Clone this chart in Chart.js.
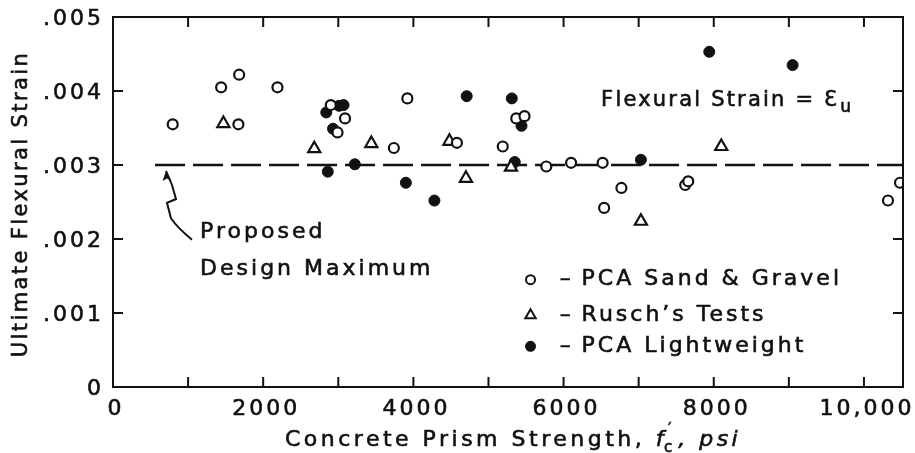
<!DOCTYPE html>
<html lang="en">
<head>
<meta charset="UTF-8">
<title>Ultimate Flexural Strain</title>
<script src="https://cdn.jsdelivr.net/npm/chart.js@4.4.1/dist/chart.umd.min.js"></script>
<style>
  html, body { margin: 0; padding: 0; background: #fff; }
</style>
</head>
<body>
<canvas id="strain" width="915" height="453"></canvas>
<script>
// PCA Sand & Gravel (open circles)
const sandX = [795, 1440, 1680, 2190, 1670, 2900, 3090, 2990, 3740, 3920, 4580, 5190, 5370, 5480, 5770, 6100, 6520, 6770, 6540, 7620, 7660, 10320, 10480];
const sandY = [.00355, .00405, .00422, .00405, .00355, .00381, .00363, .00344, .00323, .00390, .00330, .00325, .00363, .00366, .00298, .00303, .00303, .00269, .00242, .00273, .00278, .00252, .00276];

// Rusch's tests (open triangles)
const ruschX = [1470, 2680, 3440, 4480, 4700, 5300, 7030, 8100];
const ruschY = [.00356, .00322, .00329, .00332, .00282, .00297, .00224, .00325];

// PCA Lightweight (filled circles)
const lightX = [2840, 3010, 3070, 2930, 2860, 3220, 3900, 4280, 4710, 5310, 5440, 5350, 7030, 7940, 9050];
const lightY = [.00371, .00380, .00381, .00349, .00291, .00301, .00276, .00252, .00393, .00390, .00353, .00304, .00307, .00453, .00435];

// proposed design maximum
const designX = [560, 10520];
const designY = [.003, .003];

const xTickValues = [0, 2000, 4000, 6000, 8000, 10000];
const xTickLabels = ['0', '2000', '4000', '6000', '8000', '10,000'];
const yTickValues = [0, .001, .002, .003, .004, .005];
const yTickLabels = ['0', '.001', '.002', '.003', '.004', '.005'];

const INK = '#111';
const FONT = '"DejaVu Sans", sans-serif';

function pts(xs, ys) {
    return xs.map((x, i) => ({ x: x, y: ys[i] }));
}

// fill + thin stroke so the lettering is as heavy as the drawn original
function ink(ctx, text, x, y) {
    ctx.fillText(text, x, y);
    ctx.strokeText(text, x, y);
}

// ticks pointing inwards on all four sides, top/right frame, tick labels, notes, legend, titles
const paperPlugin = {
    id: 'paper',
    afterDraw(chart) {
        const ctx = chart.ctx;
        const a = chart.chartArea;
        const xs = chart.scales.x, ys = chart.scales.y;
        const px = v => xs.getPixelForValue(v);
        const py = v => ys.getPixelForValue(v);
        ctx.save();
        ctx.strokeStyle = INK;
        ctx.fillStyle = INK;
        ctx.lineWidth = 2;

        // top & right frame
        ctx.beginPath();
        ctx.moveTo(a.left, a.top);
        ctx.lineTo(a.right, a.top);
        ctx.lineTo(a.right, a.bottom);
        ctx.stroke();

        // inward tick marks
        ctx.beginPath();
        for (let v = 1000; v <= 10000; v += 1000) {
            ctx.moveTo(px(v), a.bottom); ctx.lineTo(px(v), a.bottom - 10);
            ctx.moveTo(px(v), a.top); ctx.lineTo(px(v), a.top + 10);
        }
        for (let k = 1; k <= 4; k++) {
            const y = py(k / 1000);
            ctx.moveTo(a.left, y); ctx.lineTo(a.left + 10, y);
            ctx.moveTo(a.right, y); ctx.lineTo(a.right - 10, y);
        }
        ctx.stroke();

        // arrow from the note up to the dashed line
        const arrow = [[1052, .00199], [772, .00228], [719, .00249], [839, .00254], [786, .00273], [706, .00292]];
        ctx.lineWidth = 2;
        ctx.beginPath();
        ctx.moveTo(px(arrow[0][0]), py(arrow[0][1]));
        ctx.quadraticCurveTo(px(860), py(.00215), px(arrow[1][0]), py(arrow[1][1]));
        ctx.lineTo(px(arrow[2][0]), py(arrow[2][1]));
        ctx.lineTo(px(arrow[3][0]), py(arrow[3][1]));
        ctx.lineTo(px(arrow[4][0]), py(arrow[4][1]));
        ctx.lineTo(px(arrow[5][0]), py(arrow[5][1]));
        ctx.stroke();
        const tx = px(arrow[5][0]), ty = py(arrow[5][1]);
        ctx.beginPath();
        ctx.moveTo(tx, ty);
        ctx.lineTo(tx - 3.5, ty + 10);
        ctx.lineTo(tx + 1, ty + 7.5);
        ctx.lineTo(tx + 5.5, ty + 10);
        ctx.closePath();
        ctx.fill();

        ctx.lineWidth = 0.6;

        // tick labels
        ctx.font = '22px ' + FONT;
        ctx.letterSpacing = '3px';
        ctx.textBaseline = 'middle';
        ctx.textAlign = 'center';
        xTickValues.forEach((v, i) => ink(ctx, xTickLabels[i], px(v) + 3, 409));
        ctx.textAlign = 'right';
        yTickValues.forEach((v, i) => ink(ctx, yTickLabels[i], 104, py(v) + 2));

        // notes
        ctx.letterSpacing = '3px';
        ctx.textBaseline = 'alphabetic';
        ctx.textAlign = 'left';
        ctx.font = '22px ' + FONT;
        ink(ctx, 'Proposed', px(1160), py(.00201));
        ink(ctx, 'Design Maximum', px(1160), py(.00151));

        ctx.font = '21px ' + FONT;
        ctx.letterSpacing = '2.2px';
        ink(ctx, 'Flexural Strain = Ɛ', px(6500), py(.00380));
        const w = ctx.measureText('Flexural Strain = Ɛ').width;
        ctx.font = '17px ' + FONT;
        ink(ctx, 'u', px(6500) + w + 1, py(.00380) + 6);

        // legend
        const legend = [
            ['circle', false, 'PCA Sand & Gravel', .00145],
            ['triangle', false, 'Rusch\u2019s Tests', .00097],
            ['circle', true, 'PCA Lightweight', .00055]
        ];
        legend.forEach(([shape, filled, label, yv]) => {
            const y = py(yv);
            const x0 = px(5560);
            ctx.lineWidth = 2;
            ctx.fillStyle = filled ? INK : '#fff';
            Chart.helpers.drawPoint(ctx, { pointStyle: shape, radius: shape === 'triangle' ? 6 : 4.5, borderWidth: 2 }, x0, y);
            ctx.fillStyle = INK;
            ctx.lineWidth = 0.6;
            ctx.font = '22px ' + FONT;
            ctx.letterSpacing = '3px';
            ctx.textBaseline = 'middle';
            ink(ctx, '\u2013', px(5950), y);
            ink(ctx, label, px(6240), y);
        });

        // axis titles
        ctx.textBaseline = 'middle';
        ctx.font = '21px ' + FONT;
        ctx.letterSpacing = '2.4px';
        ctx.save();
        ctx.translate(22, (a.top + a.bottom) / 2 + 2);
        ctx.rotate(-Math.PI / 2);
        ctx.textAlign = 'center';
        ink(ctx, 'Ultimate Flexural Strain', 0, 0);
        ctx.restore();

        const t1 = 'Concrete Prism Strength, ';
        ctx.textAlign = 'left';
        ctx.letterSpacing = '3.5px';
        let x = 285;
        const yb = 440;
        ctx.font = '22px ' + FONT;
        ink(ctx, t1, x, yb);
        x += ctx.measureText(t1).width;
        ctx.font = 'italic 22px ' + FONT;
        ink(ctx, 'f', x, yb);
        x += ctx.measureText('f').width;
        ctx.font = '15px ' + FONT;
        ctx.letterSpacing = '0px';
        ink(ctx, '\u2032', x + 1, yb - 10);
        ink(ctx, 'c', x - 3, yb + 8);
        x += ctx.measureText('c').width + 3;
        ctx.letterSpacing = '3.5px';
        ctx.font = 'italic 22px ' + FONT;
        ink(ctx, ', psi', x, yb);

        ctx.restore();
    }
};

const ctx = document.getElementById('strain').getContext('2d');
const strainChart = new Chart(ctx, {
    type: 'scatter',
    data: {
        datasets: [
            {
                label: 'PCA Sand & Gravel',
                data: pts(sandX, sandY),
                pointStyle: 'circle',
                pointRadius: 5,
                pointBorderWidth: 2.2,
                pointBorderColor: INK,
                pointBackgroundColor: '#fff'
            },
            {
                label: 'Rusch\u2019s Tests',
                data: pts(ruschX, ruschY),
                pointStyle: 'triangle',
                pointRadius: 7,
                pointBorderWidth: 2.2,
                pointBorderColor: INK,
                pointBackgroundColor: '#fff'
            },
            {
                label: 'PCA Lightweight',
                data: pts(lightX, lightY),
                pointStyle: 'circle',
                pointRadius: 5.5,
                pointBorderWidth: 1,
                pointBorderColor: INK,
                pointBackgroundColor: INK
            },
            {
                type: 'line',
                label: 'Proposed Design Maximum',
                data: pts(designX, designY),
                borderColor: INK,
                borderWidth: 2.5,
                borderDash: [30, 8],
                pointRadius: 0,
                order: 5
            }
        ]
    },
    options: {
        responsive: false,
        animation: false,
        events: [],
        layout: { padding: { top: 17, right: 12, left: 0, bottom: 0 } },
        plugins: {
            legend: { display: false },
            tooltip: { enabled: false }
        },
        scales: {
            x: {
                type: 'linear',
                min: 0,
                max: 10520,
                afterFit: s => { s.height = 66; },
                border: { display: true, color: INK, width: 2 },
                grid: { drawOnChartArea: false, drawTicks: false },
                ticks: { display: false }
            },
            y: {
                type: 'linear',
                min: 0,
                max: .005,
                afterFit: s => { s.width = 113; },
                border: { display: true, color: INK, width: 2 },
                grid: { drawOnChartArea: false, drawTicks: false },
                ticks: { display: false, stepSize: .001 }
            }
        }
    },
    plugins: [paperPlugin]
});
</script>
</body>
</html>
